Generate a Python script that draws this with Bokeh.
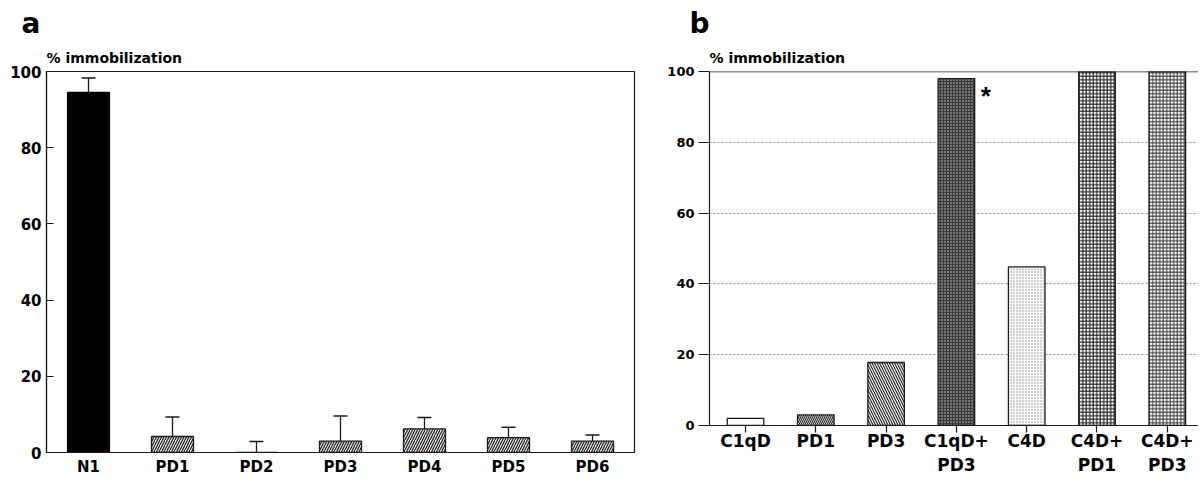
from bokeh.plotting import figure
from bokeh.models import (FactorRange, Range1d, FixedTicker, Whisker, TeeHead,
                          ColumnDataSource, Title, Span)
from bokeh.layouts import row
from bokeh.embed import file_html
from bokeh.resources import INLINE

# ---------------- data ----------------
a_categories = ["N1", "PD1", "PD2", "PD3", "PD4", "PD5", "PD6"]
a_means = [94.5, 4.2, 0.0, 3.0, 6.2, 3.9, 3.0]
a_upper = [98.3, 9.3, 2.9, 9.6, 9.2, 6.6, 4.6]

b_categories = ["C1qD", "PD1", "PD3", "C1qD+\nPD3", "C4D", "C4D+\nPD1", "C4D+\nPD3"]
b_values = [2.0, 3.0, 17.8, 98.0, 44.8, 100.0, 100.0]

y_ticks = [0, 20, 40, 60, 80, 100]
y_label = "% immobilization"
star_category = 3

FONT = "DejaVu Sans"
H = 479


def style_axis(ax):
    ax.axis_line_color = "#1a1a1a"
    ax.axis_line_width = 1.2
    ax.major_tick_line_color = "#1a1a1a"
    ax.major_tick_line_width = 1.2
    ax.minor_tick_in = 0
    ax.minor_tick_out = 0
    ax.major_label_text_font = FONT
    ax.major_label_text_font_style = "bold"
    ax.major_label_text_color = "black"


# ---------------- panel a ----------------
pa = figure(width=646, height=H,
            x_range=FactorRange(factors=a_categories, range_padding=0, factor_padding=0),
            y_range=Range1d(0, 100),
            output_backend="svg", toolbar_location=None,
            min_border_left=46, min_border_right=12, min_border_top=71, min_border_bottom=27,
            title="a")
pa.frame_align = False
pa.title.text_font = FONT
pa.title.text_font_size = "28px"
pa.title.text_font_style = "bold"
pa.title.text_color = "black"
pa.title.align = "left"
pa.title.offset = -25
pa.title.standoff = 5
pa.add_layout(Title(text=y_label, align="left", offset=0, text_font=FONT,
                    text_font_size="14px", text_font_style="bold", text_color="black",
                    standoff=11), "above")

pa.vbar(x=a_categories[:1], top=a_means[:1], bottom=0, width=0.5,
        fill_color="black", line_color="black", line_width=1.2)
pa.vbar(x=a_categories[1:], top=a_means[1:], bottom=0, width=0.5,
        fill_color="#eeeeee", line_color="#1a1a1a", line_width=1.3,
        hatch_pattern="/", hatch_color="#1a1a1a", hatch_scale=5, hatch_weight=1.2)

src_a = ColumnDataSource(dict(x=a_categories, lower=a_means, upper=a_upper))
pa.add_layout(Whisker(base="x", lower="lower", upper="upper", source=src_a,
                      dimension="height", line_color="#1a1a1a", line_width=1.3,
                      upper_head=TeeHead(size=14, line_color="#1a1a1a", line_width=1.5),
                      lower_head=None, level="underlay"))

pa.xgrid.visible = False
pa.ygrid.visible = False
pa.outline_line_color = "#1a1a1a"
pa.outline_line_width = 1.2

style_axis(pa.yaxis)
pa.yaxis.ticker = FixedTicker(ticks=y_ticks)
pa.yaxis.major_tick_in = 7
pa.yaxis.major_tick_out = 0
pa.yaxis.major_label_standoff = 5
pa.yaxis.major_label_text_font_size = "15px"

style_axis(pa.xaxis)
pa.xaxis.major_tick_in = 0
pa.xaxis.major_tick_out = 0
pa.xaxis.major_label_standoff = 5
pa.xaxis.major_label_text_font_size = "15px"

# ---------------- panel b ----------------
b_x = list(range(len(b_categories)))
pb = figure(width=552, height=H,
            x_range=Range1d(-0.512, 6.444), y_range=Range1d(0, 100),
            output_backend="svg", toolbar_location=None,
            min_border_left=63, min_border_right=0, min_border_top=71, min_border_bottom=54,
            title="b")
pb.frame_align = False
pb.title.text_font = FONT
pb.title.text_font_size = "28px"
pb.title.text_font_style = "bold"
pb.title.text_color = "black"
pb.title.align = "left"
pb.title.offset = -20
pb.title.standoff = 5
pb.add_layout(Title(text=y_label, align="left", offset=0, text_font=FONT,
                    text_font_size="14px", text_font_style="bold", text_color="black",
                    standoff=11), "above")

b_styles = [
    dict(fill_color="white", hatch_pattern=None),
    dict(fill_color="white", hatch_pattern="\\", hatch_color="#1a1a1a", hatch_scale=4, hatch_weight=1.1),
    dict(fill_color="white", hatch_pattern="\\", hatch_color="#1a1a1a", hatch_scale=5, hatch_weight=1.1),
    dict(fill_color="#3a3a3a", hatch_pattern=".", hatch_color="#d0d0d0", hatch_scale=3, hatch_weight=1),
    dict(fill_color="white", hatch_pattern=".", hatch_color="#8a8a8a", hatch_scale=3, hatch_weight=1),
    dict(fill_color="white", hatch_pattern="+", hatch_color="#1a1a1a", hatch_scale=3.5, hatch_weight=1.1),
    dict(fill_color="white", hatch_pattern="+", hatch_color="#333333", hatch_scale=3.5, hatch_weight=1.0),
]
for i, st in enumerate(b_styles):
    pb.vbar(x=[b_x[i]], top=[b_values[i]], bottom=0, width=0.52,
            line_color="#1a1a1a", line_width=1.3, **st)

pb.text(x=[b_x[star_category] + 0.42], y=[b_values[star_category] - 5], text=["*"],
        text_font_size="26px", text_font_style="bold", text_align="center",
        text_baseline="middle", text_color="black")

pb.xgrid.visible = False
pb.ygrid.ticker = FixedTicker(ticks=y_ticks[1:-1])
pb.ygrid.grid_line_color = "#8a8a8a"
pb.ygrid.grid_line_dash = "2 2"
pb.ygrid.grid_line_width = 1
pb.outline_line_color = None
pb.add_layout(Span(location=100, dimension="width", line_color="#1a1a1a", line_width=1.4))

style_axis(pb.yaxis)
pb.yaxis.ticker = FixedTicker(ticks=y_ticks)
pb.yaxis.major_tick_in = 0
pb.yaxis.major_tick_out = 11
pb.yaxis.major_label_standoff = 4
pb.yaxis.major_label_text_font_size = "13px"

style_axis(pb.xaxis)
pb.xaxis.ticker = FixedTicker(ticks=b_x)
pb.xaxis.major_label_overrides = {i: lab for i, lab in zip(b_x, b_categories)}
pb.xaxis.major_tick_in = 0
pb.xaxis.major_tick_out = 7
pb.xaxis.major_label_standoff = -2
pb.xaxis.major_label_text_font_size = "17px"
pb.xaxis.major_label_text_line_height = 1.22

layout = row(pa, pb)
with open("out.html", "w") as f:
    f.write(file_html(layout, INLINE))
